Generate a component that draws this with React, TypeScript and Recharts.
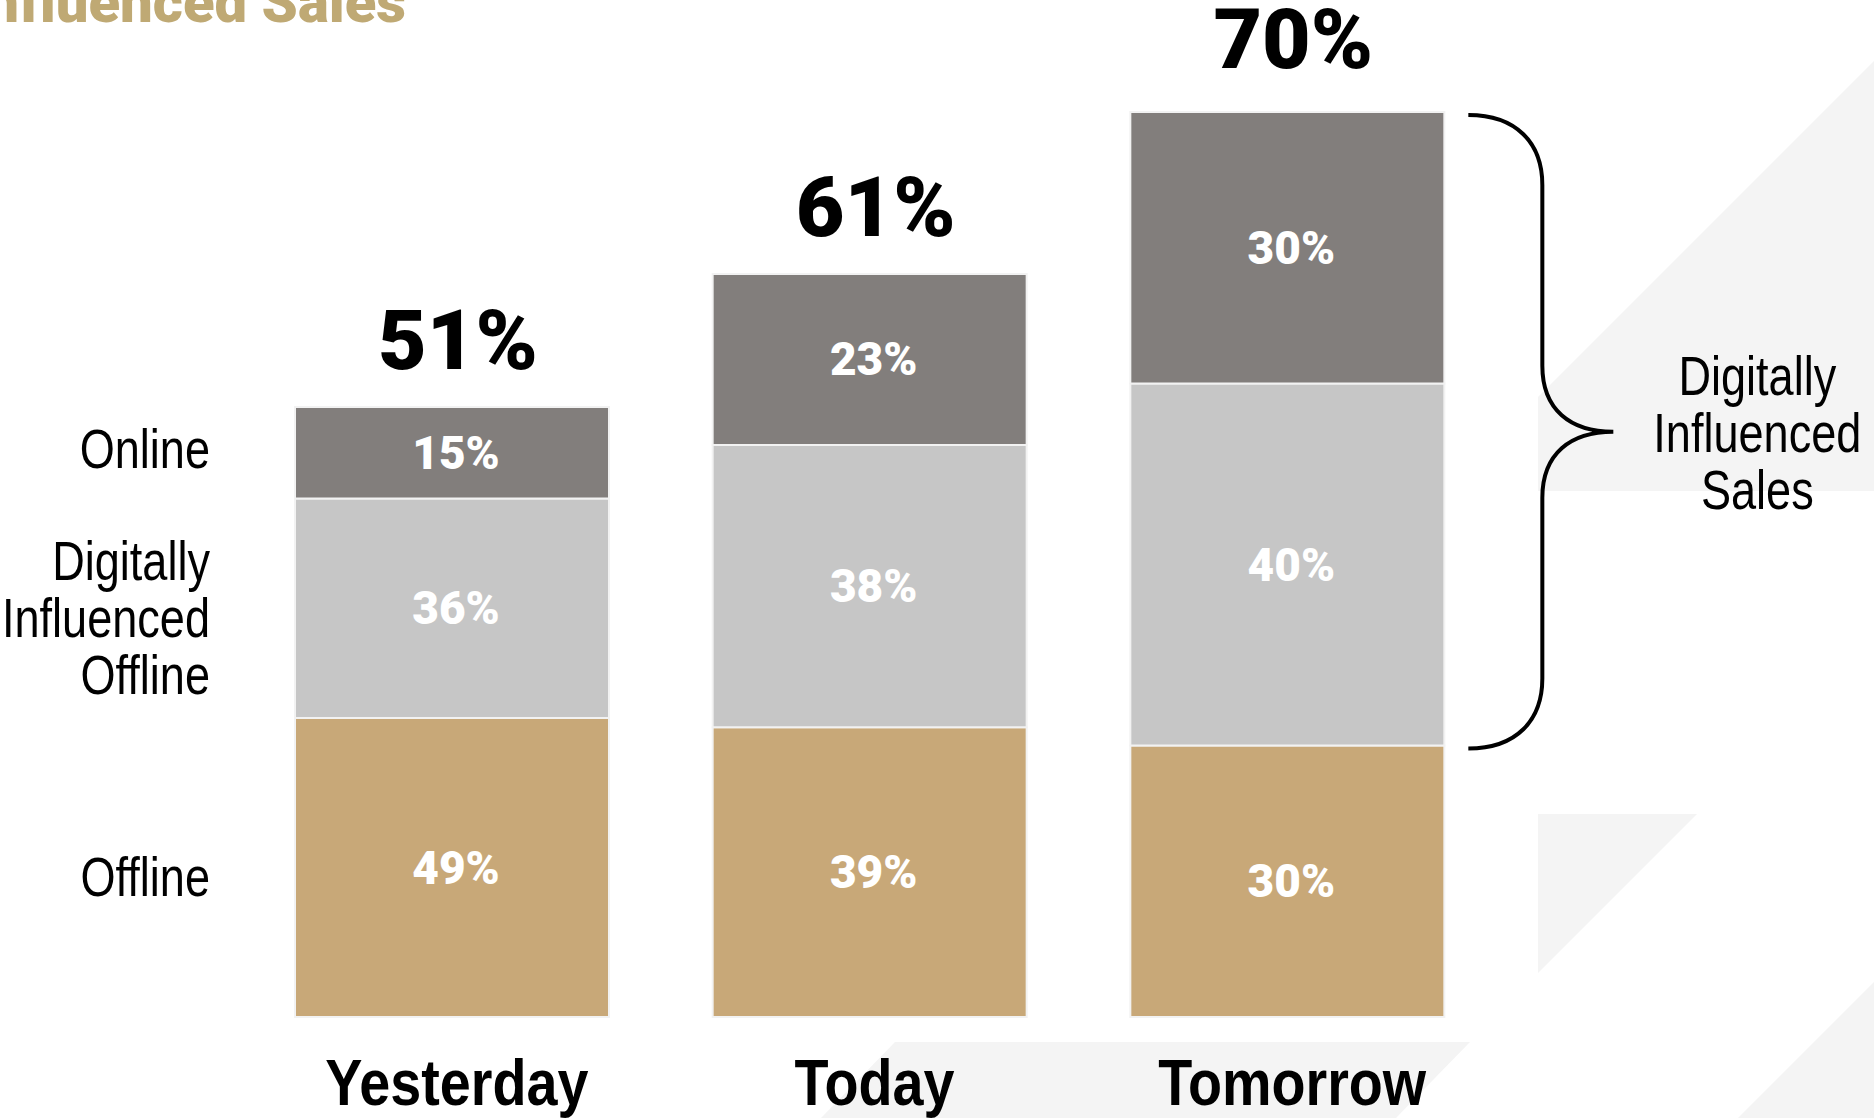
import React from 'react'
import { BarChart, Bar, XAxis, YAxis, LabelList } from 'recharts'

const categories = ['Yesterday', 'Today', 'Tomorrow']
const offline = [49, 39, 30]
const digitallyInfluenced = [36, 38, 40]
const online = [15, 23, 30]
// each column is drawn at its own height (Tomorrow = 100)
const columnHeight = [67.4, 82.1, 100]
const rowLabels = {
  online: ['Online'],
  dio: ['Digitally', 'Influenced', 'Offline'],
  offline: ['Offline'],
}
const braceLabel = ['Digitally', 'Influenced', 'Sales']

const data = categories.map((name, i) => ({
  name,
  offline: (offline[i] * columnHeight[i]) / 100,
  dio: (digitallyInfluenced[i] * columnHeight[i]) / 100,
  online: (online[i] * columnHeight[i]) / 100,
}))

const HEAVY = 'Roboto, "Liberation Sans", sans-serif'
const PLAIN = '"Liberation Sans", Arial, sans-serif'
// no condensed face is installed, so squeeze the plain one horizontally
const squeeze = (x: number, k: number) => `matrix(${k} 0 0 1 ${x * (1 - k)} 0)`

const box = (p: any) => {
  const vb = p.viewBox || {}
  return {
    x: p.x ?? vb.x,
    y: p.y ?? vb.y,
    w: p.width ?? vb.width,
    h: p.height ?? vb.height,
  }
}

function Lines({
  lines,
  x,
  cy,
  anchor,
}: {
  lines: string[]
  x: number
  cy: number
  anchor: 'end' | 'middle'
}) {
  const step = 57
  const first = cy - ((lines.length - 1) * step) / 2
  return (
    <text
      x={x}
      textAnchor={anchor}
      fontFamily={PLAIN}
      fontSize={55}
      fill="#000"
      transform={squeeze(x, 0.82)}
    >
      {lines.map((l, i) => (
        <tspan key={i} x={x} y={first + i * step + 20}>
          {l}
        </tspan>
      ))}
    </text>
  )
}

function segmentLabel(
  values: number[],
  lines: string[],
  sideShift: number,
  extra?: (b: any, i: number) => React.ReactNode
) {
  return (p: any) => {
    const b = box(p)
    const i = p.index
    const cy = b.y + b.h / 2
    return (
      <g>
        <text
          x={b.x + b.w / 2 + 4}
          y={cy + 16}
          textAnchor="middle"
          fill="#fff"
          fontFamily={HEAVY}
          fontWeight={900}
          fontSize={46}
        >
          {values[i]}%
        </text>
        {i === 0 && <Lines lines={lines} x={b.x - 85} cy={cy + sideShift} anchor="end" />}
        {extra && extra(b, i)}
      </g>
    )
  }
}

const onlineExtra = (b: any, i: number) => {
  const total = online[i] + digitallyInfluenced[i]
  const last = i === categories.length - 1
  const nodes: React.ReactNode[] = [
    <text
      key="t"
      x={b.x + b.w / 2 + 6}
      y={b.y - (last ? 44 : 38)}
      textAnchor="middle"
      fill="#000"
      fontFamily={HEAVY}
      fontWeight={900}
      fontSize={84}
    >
      {total}%
    </text>,
  ]
  if (last) {
    // brace spans online + digitally influenced segments
    const pxPerUnit = b.h / data[i].online
    const T = b.y + 3
    const B = b.y + b.h + data[i].dio * pxPerUnit + 3
    const M = (T + B) / 2
    const R = b.x + b.w
    const d = [
      `M ${R + 24} ${T}`,
      `C ${R + 72} ${T} ${R + 98} ${T + 28} ${R + 98} ${T + 70}`,
      `L ${R + 98} ${M - 66}`,
      `C ${R + 98} ${M - 22} ${R + 126} ${M} ${R + 169} ${M}`,
      `M ${R + 169} ${M}`,
      `C ${R + 126} ${M} ${R + 98} ${M + 22} ${R + 98} ${M + 66}`,
      `L ${R + 98} ${B - 70}`,
      `C ${R + 98} ${B - 28} ${R + 72} ${B} ${R + 24} ${B}`,
    ].join(' ')
    nodes.push(<path key="b" d={d} fill="none" stroke="#000" strokeWidth={4} />)
    nodes.push(<Lines key="s" lines={braceLabel} x={R + 313} cy={M} anchor="middle" />)
  }
  return nodes
}

function CategoryTick(p: any) {
  const x = p.x + 5
  return (
    <text
      x={x}
      y={p.y + 88}
      textAnchor="middle"
      fontFamily={PLAIN}
      fontWeight={700}
      fontSize={64}
      fill="#000"
      transform={squeeze(x, 0.87)}
    >
      {p.payload.value}
    </text>
  )
}

function Backdrop() {
  return (
    <svg width={1874} height={1118} style={{ position: 'absolute', left: 0, top: 0 }}>
      <polygon points="1538,397 1874,61 1874,491 1538,491" fill="#f4f4f4" />
      <polygon points="1538,814 1697,814 1538,973" fill="#f4f4f4" />
      <polygon points="1874,982 1874,1118 1738,1118" fill="#f4f4f4" />
      <polygon points="895,1042 1470,1042 1396,1118 821,1118" fill="#f4f4f4" />
      <text
        x={406}
        y={22}
        textAnchor="end"
        fill="#BFA974"
        fontFamily={HEAVY}
        fontWeight={900}
        fontSize={58}
      >
        Digitally Influenced Sales
      </text>
    </svg>
  )
}

export default function App() {
  return (
    <div
      style={{
        position: 'absolute',
        left: 0,
        top: 0,
        width: 1874,
        height: 1118,
        background: '#fff',
        overflow: 'hidden',
      }}
    >
      <Backdrop />
      <div style={{ position: 'absolute', left: 0, top: 0 }}>
        <BarChart
          width={1874}
          height={1118}
          data={data}
          margin={{ top: 112, right: 378, bottom: 0, left: 243 }}
        >
          <XAxis
            dataKey="name"
            height={101}
            axisLine={false}
            tickLine={false}
            tickSize={0}
            tickMargin={0}
            interval={0}
            tick={<CategoryTick />}
          />
          <YAxis hide domain={[0, 100]} />
          <Bar
            dataKey="offline"
            stackId="a"
            barSize={314}
            fill="#C8A878"
            stroke="#f2f2f2"
            strokeWidth={2}
            isAnimationActive={false}
          >
            <LabelList dataKey="offline" content={segmentLabel(offline, rowLabels.offline, 8)} />
          </Bar>
          <Bar
            dataKey="dio"
            stackId="a"
            barSize={314}
            fill="#C6C6C6"
            stroke="#f2f2f2"
            strokeWidth={2}
            isAnimationActive={false}
          >
            <LabelList
              dataKey="dio"
              content={segmentLabel(digitallyInfluenced, rowLabels.dio, 9)}
            />
          </Bar>
          <Bar
            dataKey="online"
            stackId="a"
            barSize={314}
            fill="#827E7C"
            stroke="#f2f2f2"
            strokeWidth={2}
            isAnimationActive={false}
          >
            <LabelList
              dataKey="online"
              content={segmentLabel(online, rowLabels.online, -5, onlineExtra)}
            />
          </Bar>
        </BarChart>
      </div>
    </div>
  )
}
